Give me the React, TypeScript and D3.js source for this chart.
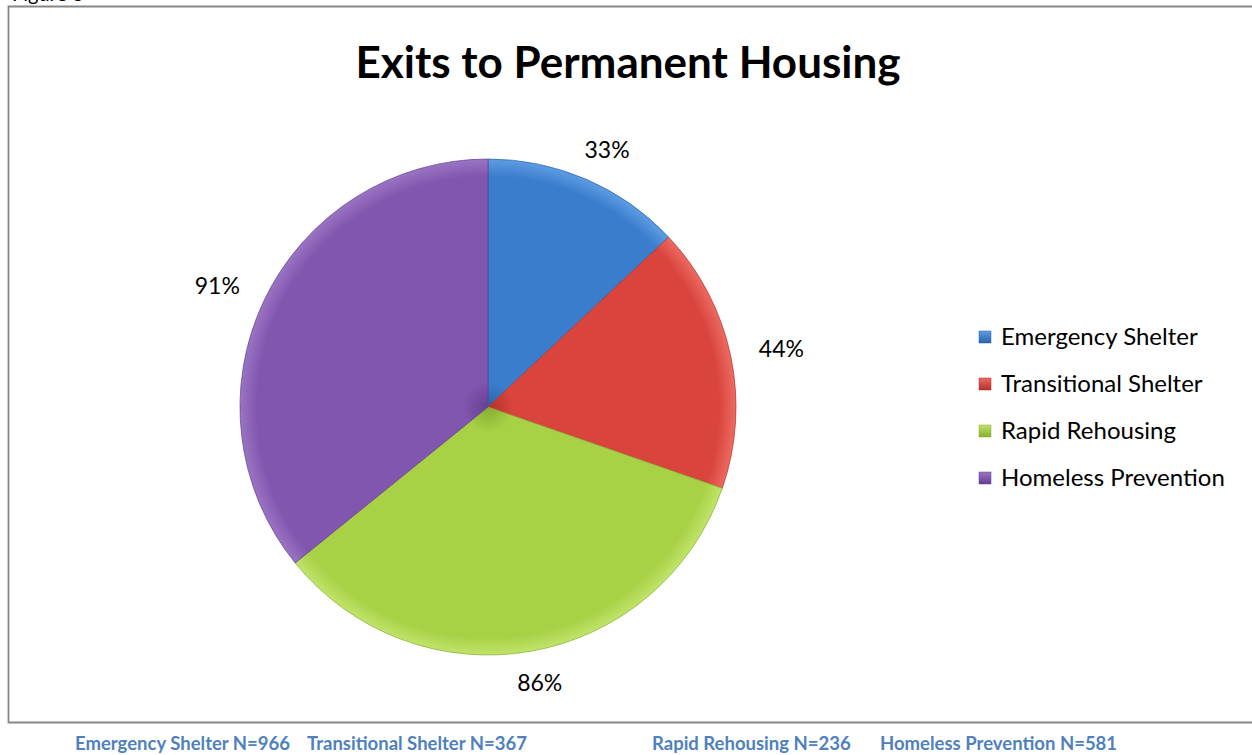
import React from "react";
import * as d3 from "d3";

const categories = ["Emergency Shelter", "Transitional Shelter", "Rapid Rehousing", "Homeless Prevention"];
const values = [33, 44, 86, 91];
const counts = [966, 367, 236, 581];
const colors = ["#3A7DCC", "#D9443D", "#A8D146", "#8156AE"];
const lightColors = ["#5E9DE4", "#EC6A62", "#C0E46A", "#9A74C4"];
const darkColors = ["#2A62A8", "#B3302B", "#86AC30", "#653E90"];

const W = 1252;
const H = 755;
const cx = 488;
const cy = 407;
const R = 248;

export default function App() {
  const pie = d3.pie<number>().sort(null).value((d) => d);
  const arcs = pie(values);
  const arcGen = d3.arc<d3.PieArcDatum<number>>().innerRadius(0).outerRadius(R);
  const font = "Lato, 'Open Sans', sans-serif";
  const footerX = [75, 307, 652, 880];

  const legendY = d3.scalePoint<string>().domain(categories).range([337, 478]);

  return (
    <svg width={W} height={H} style={{ position: "absolute", left: 0, top: 0, background: "#fff" }}>
      <defs>
        {colors.map((c, i) => (
          <radialGradient key={i} id={`g${i}`} gradientUnits="userSpaceOnUse" cx={0} cy={0} r={R}>
            <stop offset="0%" stopColor={darkColors[i]} />
            <stop offset="10%" stopColor={c} />
            <stop offset="93%" stopColor={c} />
            <stop offset="100%" stopColor={lightColors[i]} />
          </radialGradient>
        ))}
        {colors.map((c, i) => (
          <linearGradient key={i} id={`l${i}`} x1="0" y1="0" x2="0" y2="1">
            <stop offset="0%" stopColor={lightColors[i]} />
            <stop offset="100%" stopColor={darkColors[i]} />
          </linearGradient>
        ))}
      </defs>
      <rect x={0} y={0} width={W} height={H} fill="#fff" />
      <text x={12} y={1} fontFamily={font} fontSize={20} fill="#000">Figure 3</text>
      <path d={`M ${W + 5} 6.5 H 8.5 V 722.5 H ${W + 5}`} fill="none" stroke="#878787" strokeWidth={1.8} />
      <text x={628} y={78} textAnchor="middle" fontFamily={font} fontWeight="bold" fontSize={44} fill="#000">
        Exits to Permanent Housing
      </text>
      <g transform={`translate(${cx},${cy})`}>
        {arcs.map((a, i) => (
          <path
            key={i}
            d={arcGen(a) || ""}
            fill={`url(#g${i})`}
            stroke={darkColors[i]}
            strokeWidth={1}
            strokeOpacity={0.7}
          />
        ))}
        {arcs.map((a, i) => {
          const m = (a.startAngle + a.endAngle) / 2;
          const x = Math.sin(m) * 300;
          const y = -Math.cos(m) * 280;
          return (
            <text key={`t${i}`} x={x} y={y} dy="0.35em" textAnchor="middle" fontFamily={font} fontSize={23} fill="#000">
              {values[i]}%
            </text>
          );
        })}
      </g>
      {categories.map((c, i) => (
        <g key={c} transform={`translate(979,${legendY(c)})`}>
          <rect x={0} y={-6} width={12} height={12} fill={`url(#l${i})`} stroke={darkColors[i]} strokeWidth={0.5} />
          <text x={22} y={0} dy="0.35em" fontFamily={font} fontSize={24} fill="#000">{c}</text>
        </g>
      ))}
      {categories.map((c, i) => (
        <text key={`f${i}`} x={footerX[i]} y={744} dy="0.35em" fontFamily={font} fontWeight="bold" fontSize={18.5} fill="#4F81BD">
          {`${c} N=${counts[i]}`}
        </text>
      ))}
    </svg>
  );
}
